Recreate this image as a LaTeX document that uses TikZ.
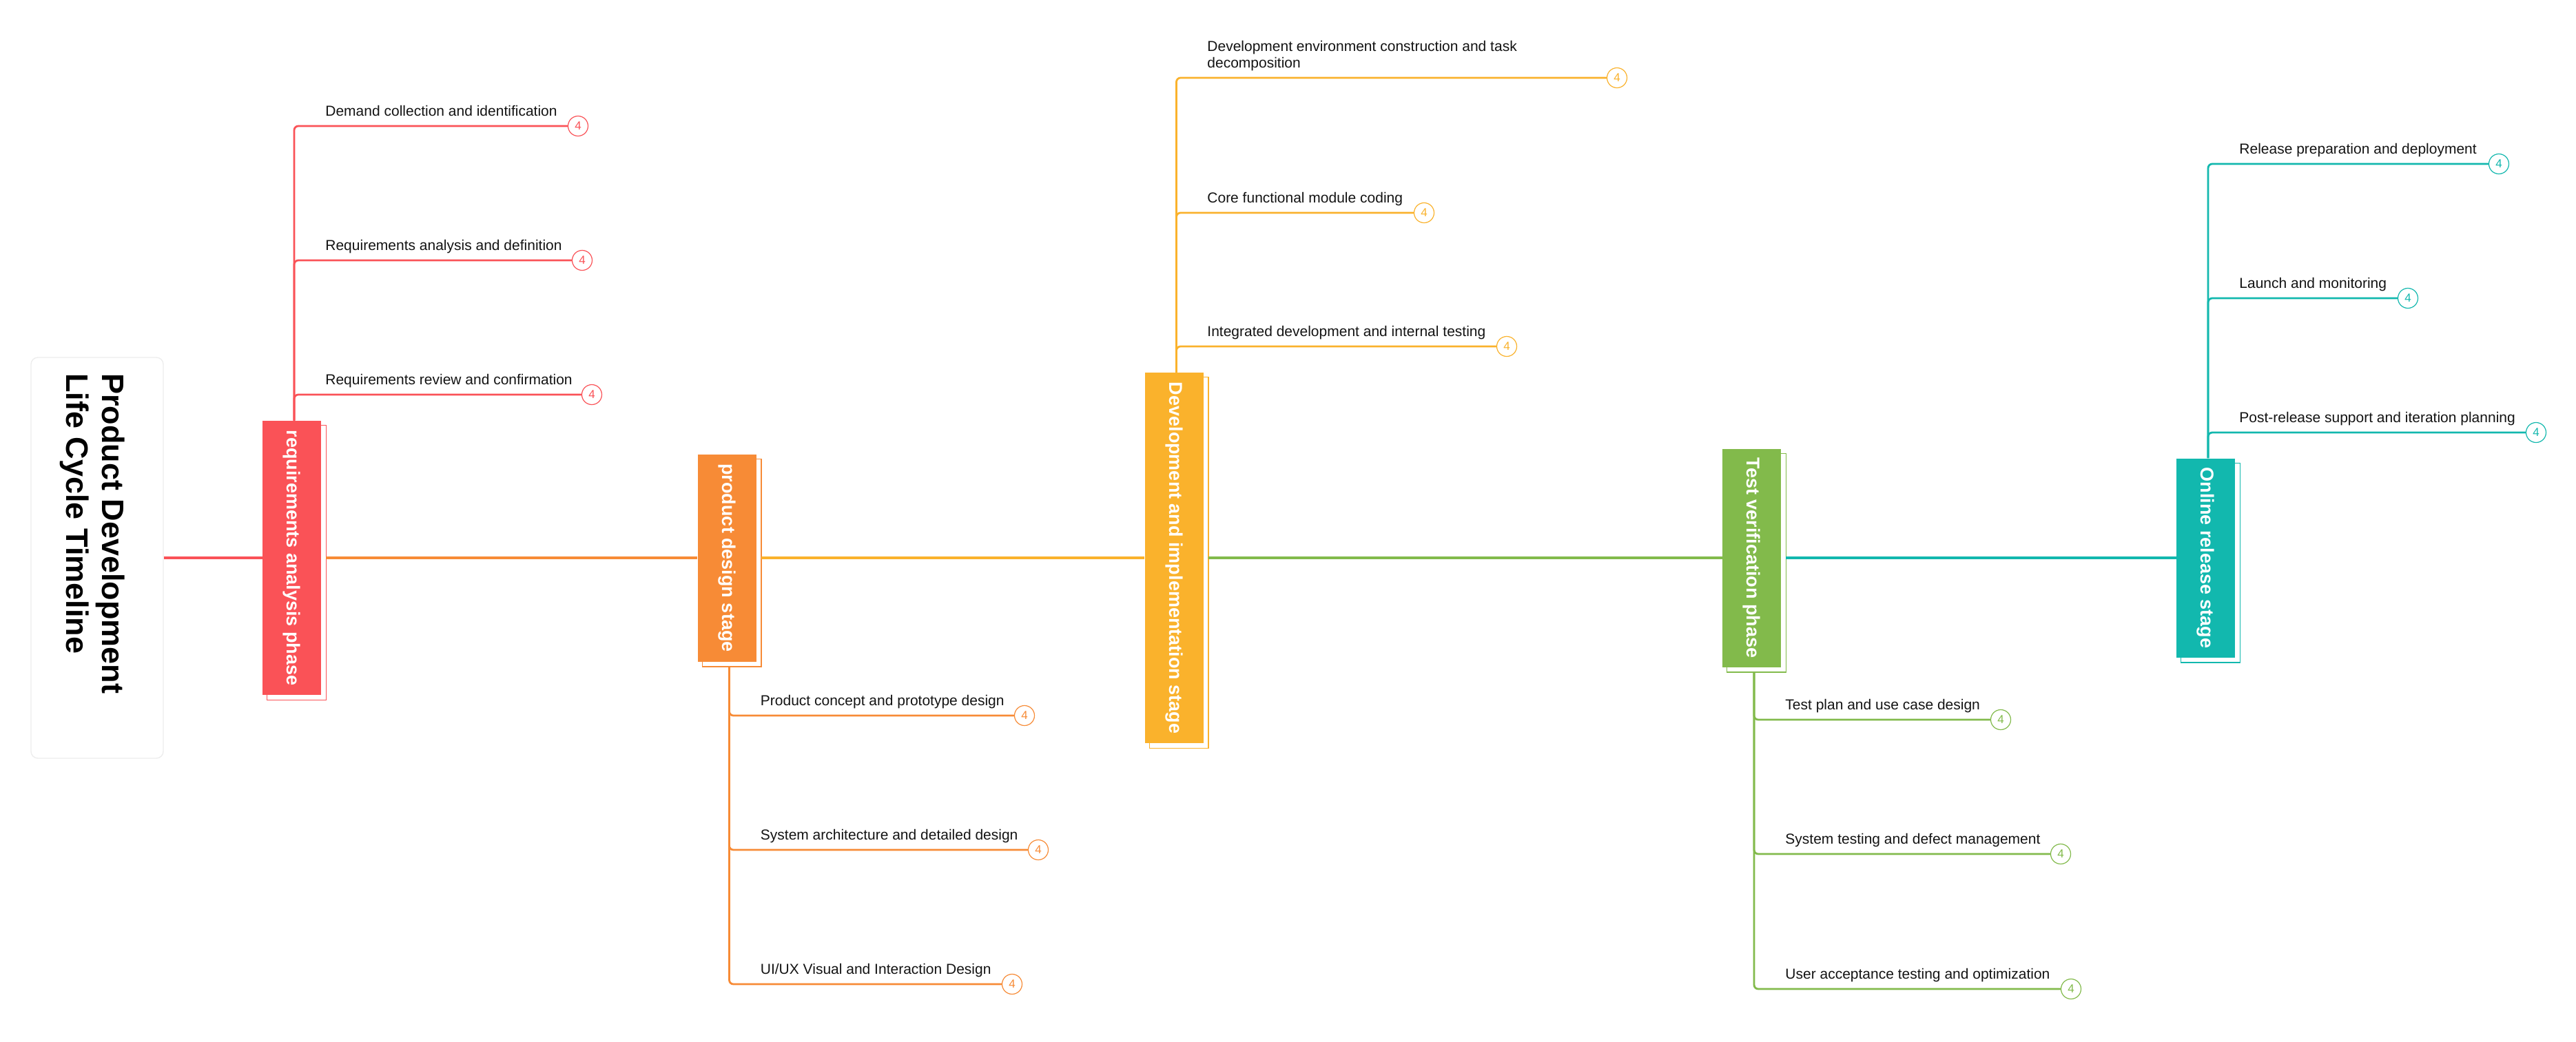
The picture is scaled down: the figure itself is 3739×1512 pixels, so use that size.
\documentclass[tikz,border=0pt]{standalone}
\usepackage{fontspec}
\setmainfont{Liberation Sans}
\usetikzlibrary{backgrounds,calc}
\definecolor{cR}{RGB}{250,82,87}
\definecolor{cO}{RGB}{247,139,54}
\definecolor{cY}{RGB}{250,178,44}
\definecolor{cG}{RGB}{130,186,75}
\definecolor{cT}{RGB}{18,184,174}
\definecolor{leaftext}{RGB}{20,20,20}
\begin{document}
\begin{tikzpicture}[x=0.5pt,y=-0.5pt,
  titlebox/.style={draw=black!7, fill=white, rounded corners=5pt, line width=0.7pt, inner sep=0pt},
  titletextstyle/.style={rotate=-90, anchor=north west, inner sep=0pt, align=left, font=\fontsize{22.5}{26}\selectfont\bfseries},
  stagebox/.style={rotate=-90, inner sep=0pt, minimum height=42.5pt, text=white, font=\fontsize{13.5}{16}\selectfont\bfseries},
  stageshadow/.style={draw=#1, fill=white, line width=0.6pt},
  spine/.style={line width=1.9pt, draw=#1},
  branch/.style={line width=1.4pt, draw=#1, rounded corners=3pt},
  leaf/.style={anchor=base west, inner sep=0pt, font=\fontsize{10.5}{12}\selectfont, text=leaftext},
  badge/.style={circle, draw=#1, text=#1, fill=white, line width=0.6pt, minimum size=14.5pt, inner sep=0pt, font=\fontsize{8.5}{10}\selectfont},
]
\useasboundingbox (0,0) rectangle (3739,1512);

% title
\node[titlebox, minimum width=96pt, minimum height=291pt] (title) at (141,810) {};
\node[titletextstyle] (titletext) at (182,542) {Product Development\\Life Cycle Timeline};

% stages
\node[stagebox, fill=cR, minimum width=199pt]   (s1) at (423.5,810)  {requirements analysis phase};
\node[stagebox, fill=cO, minimum width=150.5pt] (s2) at (1055,810)   {product design stage};
\node[stagebox, fill=cY, minimum width=269pt]   (s3) at (1704,810)   {Development and implementation stage};
\node[stagebox, fill=cG, minimum width=158.5pt] (s4) at (2542.5,810) {Test verification phase};
\node[stagebox, fill=cT, minimum width=144.5pt] (s5) at (3201.5,810) {Online release stage};

\begin{scope}[on background layer]
  \fill[white] (0,0) rectangle (3739,1512);
  \foreach \s/\c in {s1/cR,s2/cO,s3/cY,s4/cG,s5/cT}
    \draw[stageshadow=\c] ([shift={(3.5pt,-3.5pt)}]\s.north west) rectangle ([shift={(3.5pt,-3.5pt)}]\s.south east);
\end{scope}

% spine
\draw[spine=cR] (title.east) -- (s1.south);
\draw[spine=cO] ([xshift=3.5pt]s1.north) -- (s2.south);
\draw[spine=cY] ([xshift=3.5pt]s2.north) -- (s3.south);
\draw[spine=cG] ([xshift=3.5pt]s3.north) -- (s4.south);
\draw[spine=cT] ([xshift=3.5pt]s4.north) -- (s5.south);

% requirements branch (up)
\node[badge=cR] (r1) at (839,183) {4};
\node[badge=cR] (r2) at (845,378) {4};
\node[badge=cR] (r3) at (859,573) {4};
\node[leaf] (rt1) at (472,168) {Demand collection and identification};
\node[leaf] (rt2) at (472,363) {Requirements analysis and definition};
\node[leaf] (rt3) at (472,558) {Requirements review and confirmation};
\foreach \b in {r1,r2,r3} \draw[branch=cR] ([xshift=1.75pt]s1.west) |- (\b.west);

% design branch (down)
\node[badge=cO] (o1) at (1487,1039) {4};
\node[badge=cO] (o2) at (1507,1234) {4};
\node[badge=cO] (o3) at (1469,1429) {4};
\node[leaf] (ot1) at (1103.5,1024) {Product concept and prototype design};
\node[leaf] (ot2) at (1103.5,1219) {System architecture and detailed design};
\node[leaf] (ot3) at (1103.5,1414) {UI/UX Visual and Interaction Design};
\foreach \b in {o1,o2,o3} \draw[branch=cO] ([shift={(1.75pt,-3.5pt)}]s2.east) |- (\b.west);

% development branch (up)
\node[badge=cY] (y1) at (2347,113) {4};
\node[badge=cY] (y2) at (2067,309) {4};
\node[badge=cY] (y3) at (2187,503) {4};
\node[leaf, anchor=north west, align=left] (yt1) at (1752,59) {Development environment construction and task\\decomposition};
\node[leaf] (yt2) at (1752,294) {Core functional module coding};
\node[leaf] (yt3) at (1752,488) {Integrated development and internal testing};
\foreach \b in {y1,y2,y3} \draw[branch=cY] ([xshift=1.75pt]s3.west) |- (\b.west);

% test branch (down)
\node[badge=cG] (g1) at (2904,1045) {4};
\node[badge=cG] (g2) at (2991,1240) {4};
\node[badge=cG] (g3) at (3006,1436) {4};
\node[leaf] (gt1) at (2591,1030) {Test plan and use case design};
\node[leaf] (gt2) at (2591,1225) {System testing and defect management};
\node[leaf] (gt3) at (2591,1421) {User acceptance testing and optimization};
\foreach \b in {g1,g2,g3} \draw[branch=cG] ([shift={(1.75pt,-3.5pt)}]s4.east) |- (\b.west);

% release branch (up)
\node[badge=cT] (t1) at (3627,238) {4};
\node[badge=cT] (t2) at (3495,433) {4};
\node[badge=cT] (t3) at (3681,628) {4};
\node[leaf] (tt1) at (3250,223) {Release preparation and deployment};
\node[leaf] (tt2) at (3250,418) {Launch and monitoring};
\node[leaf] (tt3) at (3250,613) {Post-release support and iteration planning};
\foreach \b in {t1,t2,t3} \draw[branch=cT] ([xshift=1.75pt]s5.west) |- (\b.west);
\end{tikzpicture}
\end{document}
